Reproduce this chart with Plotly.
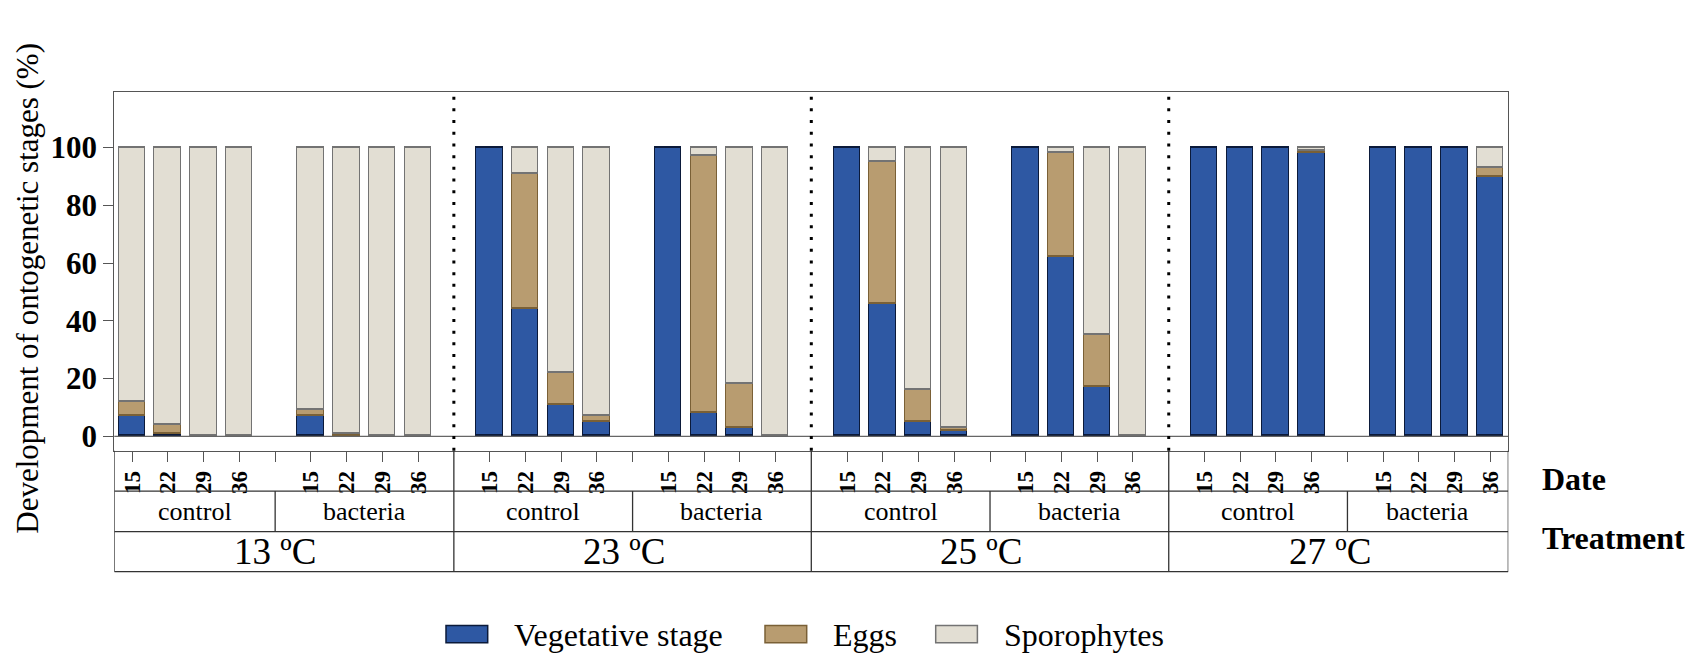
import plotly.graph_objects as go

# ---- data -------------------------------------------------------------
temperatures = ["13 ºC", "23 ºC", "25 ºC", "27 ºC"]
treatments = ["control", "bacteria"]
dates = ["15", "22", "29", "36"]

# percentages, ordered temperature -> treatment (control, bacteria) -> date
vegetative = [
    7, 1, 0, 0,        7, 0, 0, 0,          # 13 ºC
    100, 44, 11, 5,    100, 8, 3, 0,        # 23 ºC
    100, 46, 5, 2,     100, 62, 17, 0,      # 25 ºC
    100, 100, 100, 98, 100, 100, 100, 90,   # 27 ºC
]
eggs = [
    5, 3, 0, 0,        2, 1, 0, 0,
    0, 47, 11, 2,      0, 89, 15, 0,
    0, 49, 11, 1,      0, 36, 18, 0,
    0, 0, 0, 1,        0, 0, 0, 3,
]
sporophytes = [
    88, 96, 100, 100,  91, 99, 100, 100,
    0, 9, 78, 93,      0, 3, 82, 100,
    0, 5, 84, 97,      0, 2, 65, 100,
    0, 0, 0, 1,        0, 0, 0, 7,
]

stage_names = ["Vegetative stage", "Eggs", "Sporophytes"]
stage_fill = ["#2e58a3", "#b89c70", "#e2ded3"]
stage_edge = ["#0b1a3a", "#7a6036", "#737373"]

# ---- geometry ---------------------------------------------------------
W, H = 1697, 659
FONT = "Liberation Serif, Times New Roman, serif"
SLOTS_PER_GROUP = 10          # 4 dates, gap, 4 dates, separator
n_groups = len(temperatures)
x_lo, x_hi = -0.5, SLOTS_PER_GROUP * n_groups - 1.5


def fx(p):
    return p / W


def fy(p):
    return 1 - p / H


plot_left, plot_right = 114.3, 1508.3
plot_top, plot_bottom = 92.3, 452.7
row_lines = [452.7, 493.3, 534.0, 574.3]

positions = [g * SLOTS_PER_GROUP + t * 5 + d
             for g in range(n_groups)
             for t in range(len(treatments))
             for d in range(len(dates))]
separators = [g * SLOTS_PER_GROUP + 9 for g in range(n_groups - 1)]
gaps = [g * SLOTS_PER_GROUP + 4 for g in range(n_groups)]

fig = go.Figure()
for name, vals, fill, edge in zip(stage_names, [vegetative, eggs, sporophytes],
                                  stage_fill, stage_edge):
    fig.add_trace(go.Bar(
        x=positions,
        y=[v if v else None for v in vals],
        name=name,
        width=0.74,
        marker=dict(color=fill, line=dict(color=edge, width=1.5)),
        showlegend=False,
    ))

# date ticks along the bottom of the plotting area
tick_pos, tick_txt = [], []
for g in range(n_groups):
    for t in range(len(treatments)):
        for d, lab in enumerate(dates):
            tick_pos.append(g * SLOTS_PER_GROUP + t * 5 + d)
            tick_txt.append(lab)
    tick_pos.append(gaps[g])
    tick_txt.append("")

shapes = []
TABLE = dict(color="#333333", width=1.3)

# zero reference line
shapes.append(dict(type="line", xref="x domain", yref="y", x0=0, x1=1, y0=0, y1=0,
                   line=dict(color="#666666", width=1.3), layer="above"))

# dotted separators between temperatures and solid lines through the table
for s in separators:
    shapes.append(dict(type="line", xref="x", yref="paper", x0=s, x1=s,
                       y0=fy(plot_bottom), y1=fy(plot_top),
                       line=dict(color="black", width=3, dash="3px,8.7px")))
    shapes.append(dict(type="line", xref="x", yref="paper", x0=s, x1=s,
                       y0=fy(row_lines[0]), y1=fy(row_lines[-1]), line=TABLE))

# table outline and rows
for yl in row_lines[1:]:
    shapes.append(dict(type="line", xref="x", yref="paper", x0=x_lo, x1=x_hi,
                       y0=fy(yl), y1=fy(yl), line=TABLE))
for xb in (x_lo, x_hi):
    shapes.append(dict(type="line", xref="x", yref="paper", x0=xb, x1=xb,
                       y0=fy(row_lines[0]), y1=fy(row_lines[-1]), line=TABLE))
# control / bacteria divider
for gp in gaps:
    shapes.append(dict(type="line", xref="x", yref="paper", x0=gp, x1=gp,
                       y0=fy(row_lines[1]), y1=fy(row_lines[2]), line=TABLE))

annotations = []
row2_mid = (row_lines[1] + row_lines[2]) / 2
row3_mid = (row_lines[2] + row_lines[3]) / 2
for g, temp in enumerate(temperatures):
    left = x_lo if g == 0 else separators[g - 1]
    right = x_hi if g == n_groups - 1 else separators[g]
    cells = [(left, gaps[g]), (gaps[g], right)]
    for (a, b), trt in zip(cells, treatments):
        annotations.append(dict(x=(a + b) / 2, y=fy(row2_mid), xref="x", yref="paper",
                                xanchor="center", yanchor="middle",
                                text=trt, showarrow=False,
                                font=dict(family=FONT, size=26, color="black")))
    annotations.append(dict(x=(left + right) / 2 - 0.25, y=fy(row3_mid),
                            xref="x", yref="paper", xanchor="center", yanchor="middle",
                            text=temp, showarrow=False,
                            font=dict(family=FONT, size=37, color="black")))

# row headers at the right
for txt, yc in (("Date", 481), ("Treatment", 540)):
    annotations.append(dict(x=fx(1540), y=fy(yc), xref="paper", yref="paper",
                            xanchor="left", yanchor="middle", text=txt, showarrow=False,
                            font=dict(family=FONT, size=32, color="black", weight="bold")))

# y-axis title
annotations.append(dict(x=fx(28), y=fy(290), xref="paper", yref="paper",
                        text="Development of ontogenetic stages (%)", textangle=-90,
                        showarrow=False, xanchor="center", yanchor="middle",
                        font=dict(family=FONT, size=31, color="black")))

# legend drawn as swatches + labels
legend_items = [(446.0, 511.7), (765.0, 830.7), (935.7, 1002.0)]
for (sx, tx), name, fill, edge in zip(legend_items, stage_names, stage_fill, stage_edge):
    shapes.append(dict(type="rect", xref="paper", yref="paper",
                       x0=fx(sx), x1=fx(sx + 41.7), y0=fy(645.7), y1=fy(628.3),
                       fillcolor=fill, line=dict(color=edge, width=1.5)))
    annotations.append(dict(x=fx(tx), y=fy(638), xref="paper", yref="paper",
                            xanchor="left", yanchor="middle", text=name, showarrow=False,
                            font=dict(family=FONT, size=32, color="black")))

fig.update_layout(
    width=W, height=H,
    margin=dict(l=0, r=0, t=0, b=0),
    paper_bgcolor="white", plot_bgcolor="white",
    barmode="stack", bargap=0,
    shapes=shapes, annotations=annotations,
    showlegend=False,
    xaxis=dict(
        domain=[fx(plot_left), fx(plot_right)],
        range=[x_lo, x_hi],
        tickmode="array", tickvals=tick_pos, ticktext=tick_txt,
        ticks="outside", ticklen=10, tickcolor="#555555", tickwidth=1.2,
        tickangle=-90,
        tickfont=dict(family=FONT, size=23, color="black", weight="bold"),
        showline=True, mirror=True, linecolor="#555555", linewidth=1.3,
        showgrid=False, zeroline=False,
    ),
    yaxis=dict(
        domain=[fy(plot_bottom), fy(plot_top)],
        range=[-4.97, 119.3],
        tickmode="array", tickvals=[0, 20, 40, 60, 80, 100],
        ticks="outside", ticklen=10, tickcolor="#555555", tickwidth=1.2,
        tickfont=dict(family=FONT, size=31, color="black", weight="bold"),
        showline=True, mirror=True, linecolor="#555555", linewidth=1.3,
        showgrid=False, zeroline=False,
    ),
)

fig.write_html("out.html")
